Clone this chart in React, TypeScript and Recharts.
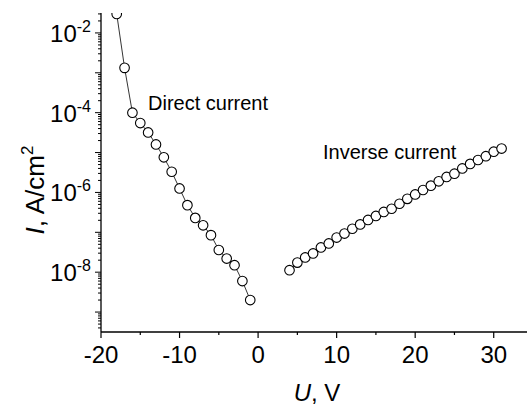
import React from 'react';
import { ScatterChart, Scatter, XAxis, YAxis, Label, Customized } from 'recharts';

// bias voltage (V) and current density (A/cm^2)
const U_DIRECT = [-18, -17, -16, -15, -14, -13, -12, -11, -10, -9, -8, -7, -6, -5, -4, -3, -2, -1];
const I_DIRECT = [
    3.0e-2, 1.33e-3, 1.0e-4, 5.5e-5, 3.2e-5, 1.6e-5, 7.6e-6, 3.3e-6, 1.26e-6,
    4.8e-7, 2.3e-7, 1.5e-7, 8.5e-8, 3.6e-8, 2.2e-8, 1.5e-8, 6.0e-9, 2.0e-9
];

const U_INVERSE = [4, 5, 6, 7, 8, 9, 10, 11, 12, 13, 14, 15, 16, 17, 18, 19, 20, 21, 22, 23, 24, 25, 26, 27, 28, 29, 30, 31];
const I_INVERSE = [
    1.12e-8, 1.74e-8, 2.34e-8, 2.95e-8, 4.17e-8, 5.25e-8, 7.4e-8, 9.3e-8, 1.23e-7, 1.58e-7,
    2.04e-7, 2.57e-7, 3.24e-7, 3.9e-7, 5.2e-7, 6.9e-7, 8.9e-7, 1.15e-6, 1.48e-6, 1.9e-6,
    2.45e-6, 2.95e-6, 4.0e-6, 5.2e-6, 6.5e-6, 8.1e-6, 1.05e-5, 1.26e-5
];

const X_TICKS = [-20, -15, -10, -5, 0, 5, 10, 15, 20, 25, 30, 35];
const Y_MIN = 3.162e-10;
const Y_MAX = 3.162e-2;
const Y_TICKS: number[] = [];
for (let n = -10; n <= -2; n++) {
    for (let m = 1; m <= 9; m++) {
        const v = Number((m * Math.pow(10, n)).toPrecision(3));
        if (v >= Y_MIN && v <= Y_MAX) Y_TICKS.push(v);
    }
}

const directData = U_DIRECT.map((u, k) => ({ u, i: I_DIRECT[k] }));
const inverseData = U_INVERSE.map((u, k) => ({ u, i: I_INVERSE[k] }));

const FONT = '"Liberation Sans", Arial, Helvetica, sans-serif';

const Marker = (props: any) => (
    <circle cx={props.cx} cy={props.cy} r={4.8} fill="#fff" stroke="#000" strokeWidth={1.1} />
);

const XTick = (props: any) => {
    const { x, y, payload } = props;
    const v = payload.value;
    const major = v % 10 === 0;
    return (
        <g>
            <line x1={x} x2={x} y1={y} y2={y + (major ? 6 : 3)} stroke="#000" strokeWidth={1.2} />
            {major && v <= 30 && (
                <text x={x} y={y + 31} textAnchor="middle" fontSize={24} fontFamily={FONT} fill="#000">
                    {v}
                </text>
            )}
        </g>
    );
};

const YTick = (props: any) => {
    const { x, y, payload } = props;
    const lg = Math.log10(payload.value);
    const exp = Math.round(lg);
    const major = Math.abs(lg - exp) < 1e-6;
    return (
        <g>
            <line x1={x - (major ? 6 : 3)} x2={x} y1={y} y2={y} stroke="#000" strokeWidth={1} />
            {major && exp % 2 === 0 && (
                <text x={x - 10} y={y + 9} textAnchor="end" fontSize={24} fontFamily={FONT} fill="#000">
                    10<tspan dy={-10} fontSize={16}>{exp}</tspan>
                </text>
            )}
        </g>
    );
};

const YTitle = () => (
    <text
        x={44}
        y={190}
        transform="rotate(-90, 44, 190)"
        textAnchor="middle"
        fontSize={26}
        fontFamily={FONT}
        fill="#000"
    >
        <tspan fontStyle="italic">I</tspan>, A/cm<tspan dy={-11} fontSize={17}>2</tspan>
    </text>
);

const XTitle = () => (
    <text x={317} y={401} textAnchor="middle" fontSize={24} fontFamily={FONT} fill="#000">
        <tspan fontStyle="italic">U</tspan>, V
    </text>
);

const Notes = () => (
    <g fontFamily={FONT} fontSize={20} fill="#000">
        <text x={148} y={110}>Direct current</text>
        <text x={323} y={159}>Inverse current</text>
    </g>
);

export default function App() {
    return (
        <div style={{ position: 'absolute', left: 0, top: 0, width: 527, height: 407, overflow: 'hidden', background: '#fff' }}>
            <ScatterChart width={540} height={407} margin={{ top: 13, right: 7, left: 0, bottom: 0 }}>
                <XAxis
                    type="number"
                    dataKey="u"
                    domain={[-20, 35]}
                    ticks={X_TICKS}
                    interval={0}
                    allowDataOverflow
                    tick={<XTick />}
                    tickLine={false}
                    tickSize={0}
                    tickMargin={0}
                    axisLine={{ stroke: '#000', strokeWidth: 1.3 }}
                    height={75}
                >
                    <Label content={<XTitle />} />
                </XAxis>
                <XAxis
                    xAxisId="top"
                    orientation="top"
                    type="number"
                    domain={[-20, 35]}
                    tick={false}
                    tickLine={false}
                    height={0}
                    axisLine={{ stroke: '#000', strokeWidth: 1.3 }}
                />
                <YAxis
                    type="number"
                    dataKey="i"
                    scale="log"
                    domain={[Y_MIN, Y_MAX]}
                    ticks={Y_TICKS}
                    interval={0}
                    allowDataOverflow
                    width={101}
                    tick={<YTick />}
                    tickLine={false}
                    tickSize={0}
                    tickMargin={0}
                    axisLine={{ stroke: '#000', strokeWidth: 1.3 }}
                >
                    <Label content={<YTitle />} />
                </YAxis>
                <Scatter
                    data={directData}
                    shape={<Marker />}
                    line={{ stroke: '#000', strokeWidth: 0.8 }}
                    isAnimationActive={false}
                />
                <Scatter
                    data={inverseData}
                    shape={<Marker />}
                    line={{ stroke: '#000', strokeWidth: 0.8 }}
                    isAnimationActive={false}
                />
                <Customized component={<Notes />} />
            </ScatterChart>
        </div>
    );
}
